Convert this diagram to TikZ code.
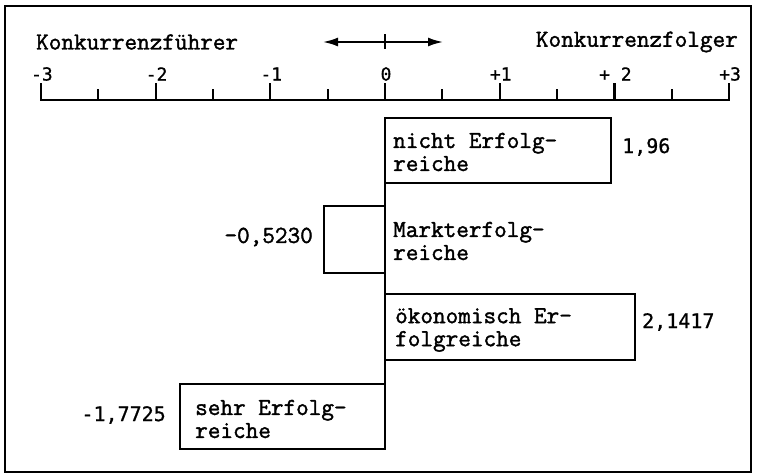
\documentclass[tikz,border=0pt]{standalone}
\usepackage{fontspec}
\setmainfont{Latin Modern Mono}[FakeBold=1.6]
\newfontfamily\numfont{DejaVu Sans Mono}[FakeBold=0.8]
\usetikzlibrary{arrows.meta}
\begin{document}
\begin{tikzpicture}[x=1pt,y=-1pt,
  bar/.style={draw, line width=2.4pt, inner sep=0pt, outer sep=0pt, anchor=north west},
  txt/.style={font=\fontsize{24.5}{23}\selectfont, align=left, inner sep=0pt, anchor=west},
  val/.style={font=\numfont\fontsize{20}{20}\selectfont, inner sep=0pt},
  ticklab/.style={font=\numfont\fontsize{18}{18}\selectfont, inner sep=0pt},
  axisline/.style={line width=2.2pt},
  frameline/.style={line width=2pt},
  dirarrow/.style={line width=2pt, {Latex[length=15pt,width=9pt]}-{Latex[length=15pt,width=9pt]}}
]
\useasboundingbox (0,0) rectangle (757,474);
\draw[frameline] (5,6) rectangle (751,472);

% headings
\node[txt] (kf) at (36,42) {Konkurrenzführer};
\node[txt, anchor=east] (kfo) at (738,42) {Konkurrenzfolger};
\coordinate (al) at (323,42);
\coordinate (ar) at (443,42);
\draw[dirarrow] (al) -- (ar);
\coordinate (mt) at (385,34);
\coordinate (mb) at (385,49);
\draw[line width=2pt] (mt) -- (mb);

% axis
\coordinate (axl) at (40.9,100);
\coordinate (axr) at (729.1,100);
\draw[axisline, line cap=rect] (axl) -- (axr);
\foreach \i/\lab in {-3/{-3},-2/{-2},-1/{-1},0/{0},1/{+1},2/{+ 2},3/{+3}}{
  \draw[axisline] (385+\i*114.7,100) -- (385+\i*114.7,83);
  \node[ticklab] (tl\i) at (385+\i*114.7+1,74) {\lab};
}
\foreach \i in {-2.5,-1.5,-0.5,0.5,1.5,2.5}{
  \draw[axisline] (385+\i*114.7,100) -- (385+\i*114.7,89);
}

% bars
\node[bar, minimum width=226pt, minimum height=65pt] (b1) at (385,118) {};
\node[bar, minimum width=61pt, minimum height=67pt] (b2) at (324,206) {};
\node[bar, minimum width=250pt, minimum height=66pt] (b3) at (385,294) {};
\node[bar, minimum width=205pt, minimum height=65pt] (b4) at (180,384) {};
\draw[line width=2.4pt] (b1.north west) -- (b4.south east);

% bar texts
\node[txt] (t1) at (393,152) {nicht Erfolg-\\reiche};
\node[txt] (t2) at (393,241) {Markterfolg-\\reiche};
\node[txt] (t3) at (395,330) {ökonomisch Er-\\folgreiche};
\node[txt] (t4) at (195,419) {sehr Erfolg-\\reiche};

% values
\node[val, anchor=west] (v1) at (622,147) {1,96};
\node[txt, anchor=east] (v2) at (313,237) {-0,5230};
\node[val, anchor=west] (v3) at (642,322) {2,1417};
\node[val, anchor=east] (v4) at (166,415) {-1,7725};
\end{tikzpicture}
\end{document}
